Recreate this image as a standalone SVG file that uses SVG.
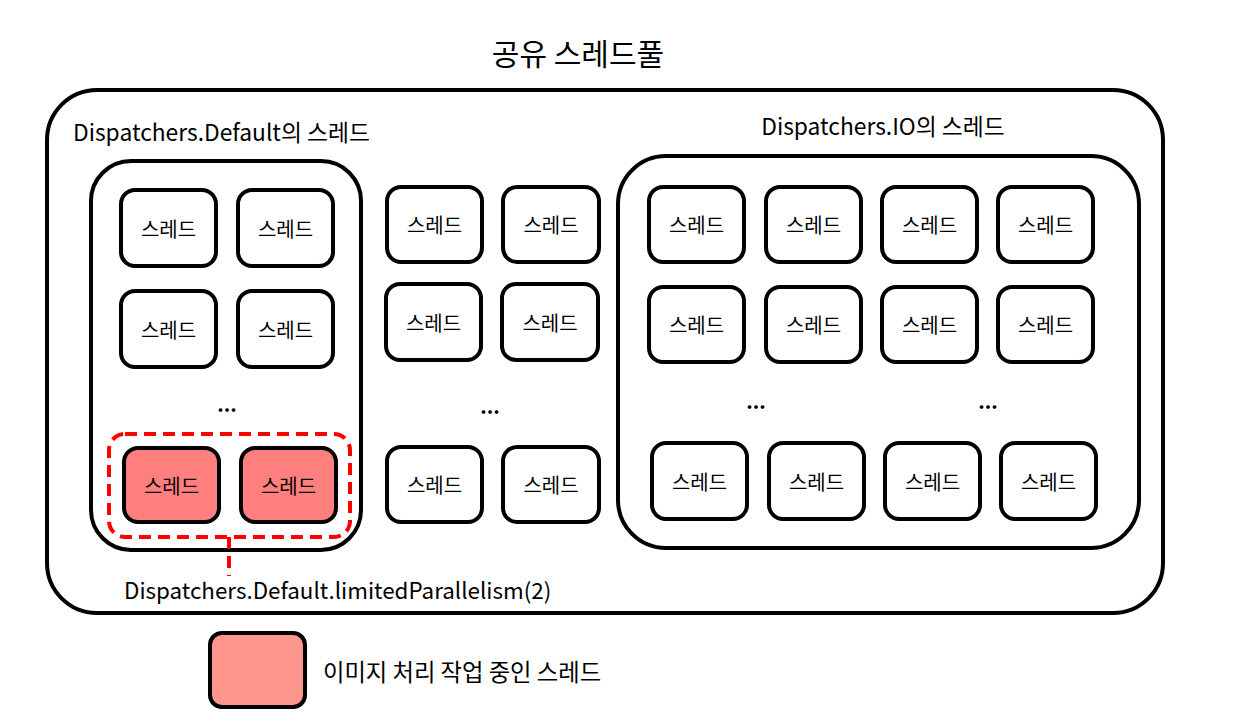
<svg xmlns="http://www.w3.org/2000/svg" width="1236" height="728" viewBox="0 0 1236 728">
<style>
text{font-family:"Noto Sans CJK KR","Noto Sans",sans-serif;fill:#000}
.box{fill:none;stroke:#000;stroke-width:4}
.th{fill:#fff;stroke:#000;stroke-width:4}
.hot{fill:#ff7f7f;stroke:#000;stroke-width:4}
.lbl{font-size:20px;text-anchor:middle;dominant-baseline:central}
.dots{font-size:20px;text-anchor:middle;font-weight:bold}
.dash{fill:none;stroke:#f00;stroke-width:4;stroke-dasharray:12 7}
</style>
<rect width="1236" height="728" fill="#fff"/>
<text x="578" y="65" font-size="30" text-anchor="middle">공유 스레드풀</text>
<g id="pool">
<rect class="box" x="47" y="90" width="1116" height="523" rx="50"/>
<text x="73" y="141" font-size="22.8">Dispatchers.Default의 스레드</text>
</g>
<g id="default">
<rect class="box" x="91" y="161" width="270" height="389" rx="40"/>
</g>
<g id="io">
<rect class="box" x="618" y="156" width="521" height="392" rx="48"/>
<text x="883" y="135" font-size="22.8" text-anchor="middle">Dispatchers.IO의 스레드</text>
</g>
<g id="d1"><rect class="th" x="121" y="190" width="95" height="76" rx="14"/><text class="lbl" x="168.5" y="228">스레드</text></g>
<g id="d2"><rect class="th" x="238" y="190" width="95" height="76" rx="14"/><text class="lbl" x="285.5" y="228">스레드</text></g>
<g id="d3"><rect class="th" x="121" y="291" width="95" height="76" rx="14"/><text class="lbl" x="168.5" y="329">스레드</text></g>
<g id="d4"><rect class="th" x="238" y="291" width="95" height="76" rx="14"/><text class="lbl" x="285.5" y="329">스레드</text></g>
<text class="dots" x="227" y="412">...</text>
<g id="d5"><rect class="hot" x="124" y="448" width="95" height="74" rx="14"/><text class="lbl" x="171.5" y="485">스레드</text></g>
<g id="d6"><rect class="hot" x="241" y="448" width="95" height="74" rx="14"/><text class="lbl" x="288.5" y="485">스레드</text></g>
<g id="m1"><rect class="th" x="387" y="187" width="95" height="75" rx="14"/><text class="lbl" x="434.5" y="224.5">스레드</text></g>
<g id="m2"><rect class="th" x="503" y="187" width="96" height="75" rx="14"/><text class="lbl" x="551" y="224.5">스레드</text></g>
<g id="m3"><rect class="th" x="386" y="284" width="95" height="76" rx="14"/><text class="lbl" x="433.5" y="322">스레드</text></g>
<g id="m4"><rect class="th" x="502" y="284" width="96" height="76" rx="14"/><text class="lbl" x="550" y="322">스레드</text></g>
<text class="dots" x="490" y="414">...</text>
<g id="m5"><rect class="th" x="387" y="447" width="95" height="75" rx="14"/><text class="lbl" x="434.5" y="484.5">스레드</text></g>
<g id="m6"><rect class="th" x="503" y="447" width="96" height="75" rx="14"/><text class="lbl" x="551" y="484.5">스레드</text></g>
<g id="i1"><rect class="th" x="649" y="187" width="95" height="75" rx="14"/><text class="lbl" x="696.5" y="224.5">스레드</text></g>
<g id="i2"><rect class="th" x="766" y="187" width="95" height="75" rx="14"/><text class="lbl" x="813.5" y="224.5">스레드</text></g>
<g id="i3"><rect class="th" x="882" y="187" width="95" height="75" rx="14"/><text class="lbl" x="929.5" y="224.5">스레드</text></g>
<g id="i4"><rect class="th" x="998" y="187" width="95" height="75" rx="14"/><text class="lbl" x="1045.5" y="224.5">스레드</text></g>
<g id="i5"><rect class="th" x="649" y="287" width="95" height="75" rx="14"/><text class="lbl" x="696.5" y="324.5">스레드</text></g>
<g id="i6"><rect class="th" x="766" y="287" width="95" height="75" rx="14"/><text class="lbl" x="813.5" y="324.5">스레드</text></g>
<g id="i7"><rect class="th" x="882" y="287" width="95" height="75" rx="14"/><text class="lbl" x="929.5" y="324.5">스레드</text></g>
<g id="i8"><rect class="th" x="998" y="287" width="95" height="75" rx="14"/><text class="lbl" x="1045.5" y="324.5">스레드</text></g>
<text class="dots" x="756" y="409">...</text>
<text class="dots" x="988" y="409">...</text>
<g id="i9"><rect class="th" x="652" y="443" width="95" height="76" rx="14"/><text class="lbl" x="699.5" y="481">스레드</text></g>
<g id="i10"><rect class="th" x="769" y="443" width="95" height="76" rx="14"/><text class="lbl" x="816.5" y="481">스레드</text></g>
<g id="i11"><rect class="th" x="885" y="443" width="95" height="76" rx="14"/><text class="lbl" x="932.5" y="481">스레드</text></g>
<g id="i12"><rect class="th" x="1001" y="443" width="95" height="76" rx="14"/><text class="lbl" x="1048.5" y="481">스레드</text></g>
<g id="limited">
<rect class="dash" x="109" y="434" width="241" height="103" rx="16"/>
<text x="124" y="599" font-size="22.4">Dispatchers.Default.limitedParallelism(2)</text>
</g>
<g id="connectors">
<path class="dash" d="M229 537V576"/>
</g>
<g id="legend">
<rect x="210" y="633" width="95" height="74" rx="12" fill="#ff968e" stroke="#000" stroke-width="4"/>
<text x="323" y="681" font-size="23.3">이미지 처리 작업 중인 스레드</text>
</g>
</svg>
